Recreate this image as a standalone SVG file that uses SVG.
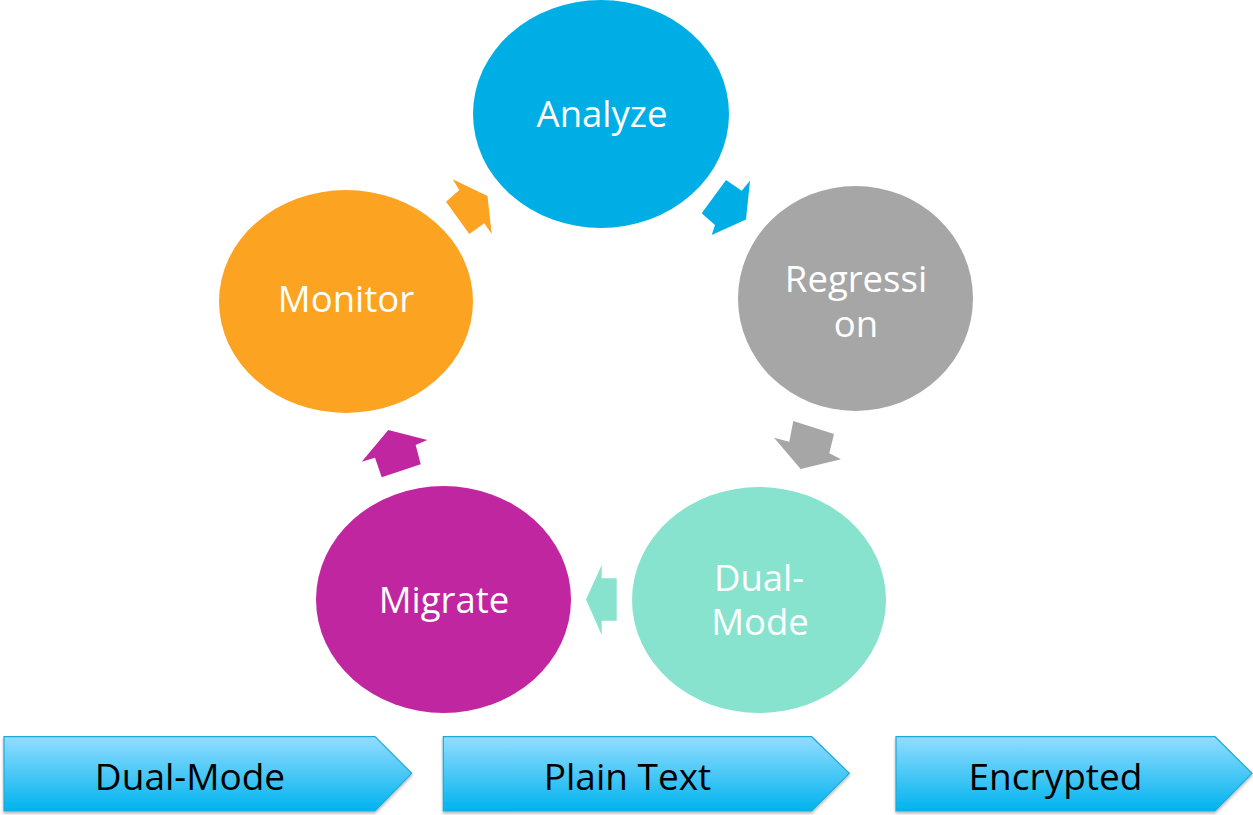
<svg xmlns="http://www.w3.org/2000/svg" width="1253" height="815" viewBox="0 0 1253 815">
  <defs>
    <linearGradient id="chev" x1="0" y1="0" x2="0" y2="1">
      <stop offset="0" stop-color="#93DDFF"/>
      <stop offset="1" stop-color="#00B3EE"/>
    </linearGradient>
    <filter id="sh" x="-5%" y="-10%" width="110%" height="130%">
      <feDropShadow dx="0" dy="2" stdDeviation="1.5" flood-color="#000" flood-opacity="0.3"/>
    </filter>
    <style>
      .lbl { font-family: "Open Sans", "Noto Sans", sans-serif; font-size: 36.5px; fill: #ffffff; text-anchor: middle; }
      .clbl { font-family: "Open Sans", "Noto Sans", sans-serif; font-size: 37px; fill: #000000; text-anchor: middle; }
      .chev { fill: url(#chev); stroke: #1FA9DC; stroke-width: 1.2; filter: url(#sh); }
    </style>
  </defs>
  <rect width="1253" height="815" fill="#ffffff"/>

  <g id="connectors">
    <polygon fill="#00AEE6" points="750,180.7 741.7,190.7 726,180 701.7,213.3 715,225 711.7,235 746,219.5"/>
    <polygon fill="#A6A6A6" points="793.3,421 834,434 829.3,453.3 841,459.3 800.7,469 774,437.7 789.3,441.7"/>
    <polygon fill="#88E3CE" points="616.7,578.3 601.7,578.3 601.7,565 586,599.5 601.7,635 601.7,620.7 616.7,620.7"/>
    <polygon fill="#C026A0" points="388.3,430 427.3,440 415.7,445 420.7,464.3 381.7,477.3 375,457.7 361.7,461.7"/>
    <polygon fill="#FCA321" points="487.5,196 452.7,179.3 459.3,190 446,201.7 469.3,234 484.3,223.3 491.7,234"/>
  </g>

  <g id="node-analyze">
    <ellipse cx="601" cy="114" rx="128" ry="114" fill="#00AEE6"/>
    <text class="lbl" x="602" y="127">Analyze</text>
  </g>
  <g id="node-regression">
    <ellipse cx="855.5" cy="298.5" rx="117.5" ry="112.5" fill="#A6A6A6"/>
    <text class="lbl" x="856" y="292">Regressi</text>
    <text class="lbl" x="856" y="337">on</text>
  </g>
  <g id="node-dualmode">
    <ellipse cx="759" cy="600" rx="127" ry="113" fill="#88E3CE"/>
    <text class="lbl" x="759" y="591">Dual-</text>
    <text class="lbl" x="760" y="635">Mode</text>
  </g>
  <g id="node-migrate">
    <ellipse cx="443.5" cy="599.5" rx="127.5" ry="113.5" fill="#C026A0"/>
    <text class="lbl" x="444" y="613">Migrate</text>
  </g>
  <g id="node-monitor">
    <ellipse cx="346" cy="301.5" rx="127" ry="111.5" fill="#FCA321"/>
    <text class="lbl" x="346" y="312">Monitor</text>
  </g>

  <g id="stage-dualmode">
    <polygon class="chev" points="4,736.7 375,736.7 411.7,773.3 375,811 4,811"/>
    <text class="clbl" x="190" y="790">Dual-Mode</text>
  </g>
  <g id="stage-plaintext">
    <polygon class="chev" points="443.3,736.7 811.7,736.7 849.3,773.3 811.7,811 443.3,811"/>
    <text class="clbl" x="627.5" y="790">Plain Text</text>
  </g>
  <g id="stage-encrypted">
    <polygon class="chev" points="896,736.7 1215,736.7 1252,773.3 1215,811 896,811"/>
    <text class="clbl" x="1055.5" y="790">Encrypted</text>
  </g>
</svg>
